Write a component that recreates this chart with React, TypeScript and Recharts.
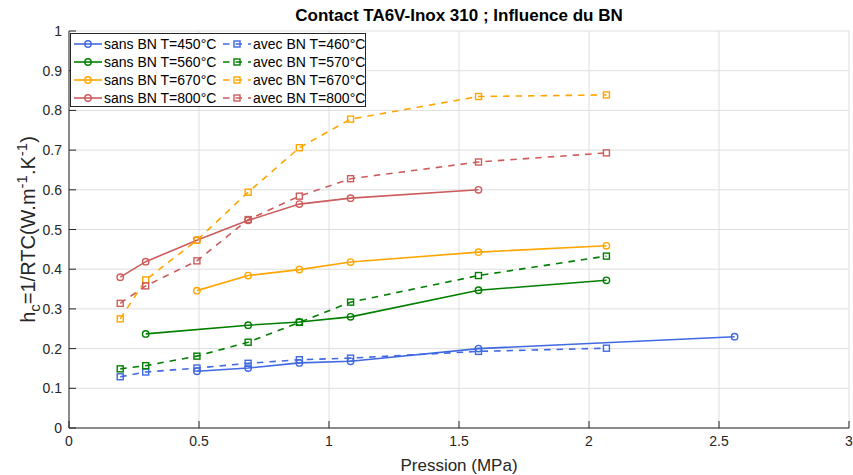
import React from "react";
import { LineChart, Line, XAxis, YAxis, CartesianGrid } from "recharts";

// pression (MPa) / h_c pour chaque essai
const pSans450 = [0.492, 0.689, 0.886, 1.083, 1.575, 2.56];
const hSans450 = [0.143, 0.151, 0.164, 0.168, 0.2, 0.23];
const pAvec460 = [0.197, 0.295, 0.492, 0.689, 0.886, 1.083, 1.575, 2.067];
const hAvec460 = [0.129, 0.141, 0.151, 0.163, 0.172, 0.176, 0.193, 0.201];
const pSans560 = [0.295, 0.689, 0.886, 1.083, 1.575, 2.067];
const hSans560 = [0.237, 0.259, 0.267, 0.28, 0.347, 0.372];
const pAvec570 = [0.197, 0.295, 0.492, 0.689, 0.886, 1.083, 1.575, 2.067];
const hAvec570 = [0.149, 0.157, 0.181, 0.216, 0.266, 0.317, 0.384, 0.433];
const pSans670 = [0.492, 0.689, 0.886, 1.083, 1.575, 2.067];
const hSans670 = [0.346, 0.384, 0.399, 0.418, 0.443, 0.459];
const pAvec670 = [0.197, 0.295, 0.492, 0.689, 0.886, 1.083, 1.575, 2.067];
const hAvec670 = [0.275, 0.373, 0.473, 0.594, 0.706, 0.778, 0.835, 0.839];
const pSans800 = [0.197, 0.295, 0.492, 0.689, 0.886, 1.083, 1.575];
const hSans800 = [0.38, 0.419, 0.473, 0.523, 0.564, 0.579, 0.6];
const pAvec800 = [0.197, 0.295, 0.492, 0.689, 0.886, 1.083, 1.575, 2.067];
const hAvec800 = [0.314, 0.358, 0.421, 0.525, 0.584, 0.628, 0.67, 0.693];

const xTicks = [0, 0.5, 1, 1.5, 2, 2.5, 3];
const yTicks = [0, 0.1, 0.2, 0.3, 0.4, 0.5, 0.6, 0.7, 0.8, 0.9, 1];

const W = 853;
const H = 475;
const PL = 69;
const PR = 849;
const PT = 31;
const PB = 428;
const TICK = 7;
const AX = "#262626";
const FONT = "'Liberation Sans', Arial, Helvetica, sans-serif";

type Serie = { name: string; color: string; dashed: boolean; x: number[]; y: number[] };

const sans: Serie[] = [
  { name: "sans BN T=450°C", color: "#4169e1", dashed: false, x: pSans450, y: hSans450 },
  { name: "sans BN T=560°C", color: "#007f00", dashed: false, x: pSans560, y: hSans560 },
  { name: "sans BN T=670°C", color: "#ffa500", dashed: false, x: pSans670, y: hSans670 },
  { name: "sans BN T=800°C", color: "#cd5c5c", dashed: false, x: pSans800, y: hSans800 },
];
const avec: Serie[] = [
  { name: "avec BN T=460°C", color: "#4169e1", dashed: true, x: pAvec460, y: hAvec460 },
  { name: "avec BN T=570°C", color: "#007f00", dashed: true, x: pAvec570, y: hAvec570 },
  { name: "avec BN T=670°C", color: "#ffa500", dashed: true, x: pAvec670, y: hAvec670 },
  { name: "avec BN T=800°C", color: "#cd5c5c", dashed: true, x: pAvec800, y: hAvec800 },
];
const series = [...sans, ...avec];

const DASH = "6.5 6";

const circleDot = (color: string) => (p: any) => (
  <circle key={`c${p.index}`} cx={p.cx} cy={p.cy} r={3.2} fill="none" stroke={color} strokeWidth={1.4} />
);
const squareDot = (color: string) => (p: any) => (
  <rect key={`s${p.index}`} x={p.cx - 3} y={p.cy - 3} width={6} height={6} fill="none" stroke={color} strokeWidth={1.4} />
);

const BottomTick = (p: any) => (
  <g>
    <line x1={p.x} x2={p.x} y1={PB} y2={PB - TICK} stroke={AX} />
    <text x={p.x} y={PB + 18} textAnchor="middle" fontSize={14} fill={AX} fontFamily={FONT}>
      {p.payload.value}
    </text>
  </g>
);
const TopTick = (p: any) => <line x1={p.x} x2={p.x} y1={PT} y2={PT + TICK} stroke={AX} />;
const LeftTick = (p: any) => (
  <g>
    <line x1={PL} x2={PL + TICK} y1={p.y} y2={p.y} stroke={AX} />
    <text x={PL - 7} y={p.y + 5} textAnchor="end" fontSize={14} fill={AX} fontFamily={FONT}>
      {p.payload.value}
    </text>
  </g>
);
const RightTick = (p: any) => <line x1={PR} x2={PR - TICK} y1={p.y} y2={p.y} stroke={AX} />;

const XLabel = () => (
  <text x={(PL + PR) / 2} y={H - 4} textAnchor="middle" fontSize={17} fill={AX} fontFamily={FONT}>
    Pression (MPa)
  </text>
);
const YLabel = () => (
  <text
    transform={`translate(35,${(PT + PB) / 2}) rotate(-90)`}
    textAnchor="middle"
    fontSize={20}
    fill={AX}
    fontFamily={FONT}
  >
    h<tspan dy={5} fontSize={15}>c</tspan>
    <tspan dy={-5}>=1/RTC(W.m</tspan>
    <tspan dy={-8} fontSize={15}>-1</tspan>
    <tspan dy={8}>.K</tspan>
    <tspan dy={-8} fontSize={15}>-1</tspan>
    <tspan dy={8}>)</tspan>
  </text>
);

function Sample({ s }: { s: Serie }) {
  return (
    <svg width={28} height={10} style={{ display: "block", flex: "none" }}>
      <line x1={0} x2={28} y1={5} y2={5} stroke={s.color} strokeWidth={1.6} strokeDasharray={s.dashed ? DASH : undefined} />
      {s.dashed ? (
        <rect x={11} y={2} width={6} height={6} fill="none" stroke={s.color} strokeWidth={1.4} />
      ) : (
        <circle cx={14} cy={5} r={3.2} fill="none" stroke={s.color} strokeWidth={1.4} />
      )}
    </svg>
  );
}

function LegendBox() {
  const cell = (s: Serie, i: number, left: number) => (
    <div
      key={s.name}
      style={{
        position: "absolute",
        left,
        top: 10.3 + i * 17.8 - 9,
        height: 18,
        display: "flex",
        alignItems: "center",
        gap: 2,
        whiteSpace: "nowrap",
      }}
    >
      <Sample s={s} />
      <span>{s.name}</span>
    </div>
  );
  return (
    <div
      style={{
        position: "absolute",
        left: 70,
        top: 33,
        width: 296,
        height: 74,
        boxSizing: "border-box",
        border: "1px solid #262626",
        background: "#fff",
        fontSize: 14,
        color: "#000",
      }}
    >
      {sans.map((s, i) => cell(s, i, 3))}
      {avec.map((s, i) => cell(s, i, 152))}
    </div>
  );
}

export default function App() {
  return (
    <div style={{ position: "absolute", left: 0, top: 0, width: W, height: H, background: "#fff", fontFamily: FONT }}>
      <div
        style={{
          position: "absolute",
          left: PL,
          width: PR - PL,
          top: 6,
          textAlign: "center",
          fontWeight: "bold",
          fontSize: 17,
          color: "#000",
        }}
      >
        Contact TA6V-Inox 310 ; Influence du BN
      </div>
      <LineChart width={W} height={H} margin={{ top: PT, right: W - PR, bottom: 0, left: 0 }}>
        <CartesianGrid stroke="#dedede" />
        <XAxis
          type="number"
          dataKey="x"
          domain={[0, 3]}
          ticks={xTicks}
          height={H - PB}
          axisLine={{ stroke: AX }}
          tickLine={false}
          tick={BottomTick}
          label={XLabel}
          allowDataOverflow
        />
        <XAxis
          xAxisId="top"
          orientation="top"
          type="number"
          domain={[0, 3]}
          ticks={xTicks}
          height={0}
          axisLine={{ stroke: AX }}
          tickLine={false}
          tick={TopTick}
        />
        <YAxis
          type="number"
          domain={[0, 1]}
          ticks={yTicks}
          width={PL}
          axisLine={{ stroke: AX }}
          tickLine={false}
          tick={LeftTick}
          label={YLabel}
          allowDataOverflow
        />
        <YAxis
          yAxisId="right"
          orientation="right"
          type="number"
          domain={[0, 1]}
          ticks={yTicks}
          width={0}
          axisLine={{ stroke: AX }}
          tickLine={false}
          tick={RightTick}
        />
        {series.map((s) => (
          <Line
            key={s.name}
            data={s.x.map((x, i) => ({ x, y: s.y[i] }))}
            dataKey="y"
            stroke={s.color}
            strokeWidth={1.6}
            strokeDasharray={s.dashed ? DASH : undefined}
            dot={s.dashed ? squareDot(s.color) : circleDot(s.color)}
            activeDot={false}
            isAnimationActive={false}
          />
        ))}
      </LineChart>
      <LegendBox />
    </div>
  );
}
